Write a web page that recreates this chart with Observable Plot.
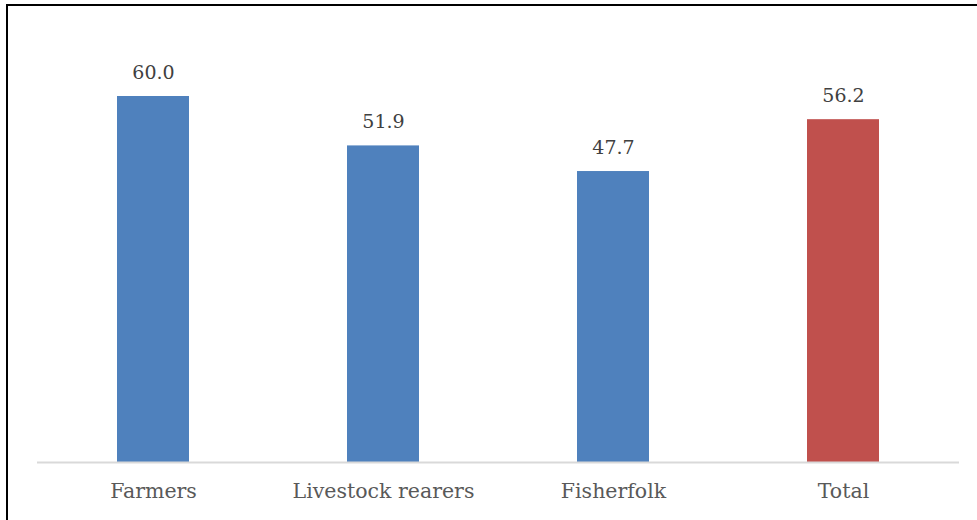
<!DOCTYPE html>
<html>
<head>
<meta charset="utf-8">
<script src="https://cdn.jsdelivr.net/npm/d3@7"></script>
<script src="https://cdn.jsdelivr.net/npm/@observablehq/plot@0.6"></script>
<style>
  html, body { margin: 0; padding: 0; background: #fff; overflow: hidden; }
  #wrap { position: relative; width: 977px; height: 520px; }
  #border { position: absolute; left: 6px; top: 4px; width: 990px; height: 540px; border: 2px solid #000; pointer-events: none; box-sizing: border-box; }
</style>
</head>
<body>
<div id="wrap"><div id="chart"></div><div id="border"></div></div>
<script>
const categories = ["Farmers", "Livestock rearers", "Fisherfolk", "Total"];
const values = [60.0, 51.9, 47.7, 56.2];
const colors = ["#4f81bd", "#4f81bd", "#4f81bd", "#c0504d"];
const labels = ["60.0", "51.9", "47.7", "56.2"];

const data = categories.map((c, i) => ({category: c, value: values[i], color: colors[i], label: labels[i]}));

const chart = Plot.plot({
  width: 977,
  height: 520,
  marginLeft: 37,
  marginRight: 18,
  marginTop: 35,
  marginBottom: 58,
  style: {fontFamily: "'DejaVu Serif', serif", background: "transparent"},
  x: {domain: categories, paddingInner: 0.688, paddingOuter: 0.344, label: null},
  y: {domain: [0, 70], axis: null},
  marks: [
    Plot.barY(data, {x: "category", y: "value", fill: "color"}),
    Plot.ruleY([0], {stroke: "#d9d9d9", strokeWidth: 2}),
    Plot.text(data, {x: "category", y: "value", text: "label", dy: -24, fontSize: 19, fill: "#404040"}),
    Plot.axisX({tickSize: 0, tickPadding: 21, fontSize: 20.5, color: "#595959", label: null})
  ]
});
document.getElementById("chart").appendChild(chart);
</script>
</body>
</html>
